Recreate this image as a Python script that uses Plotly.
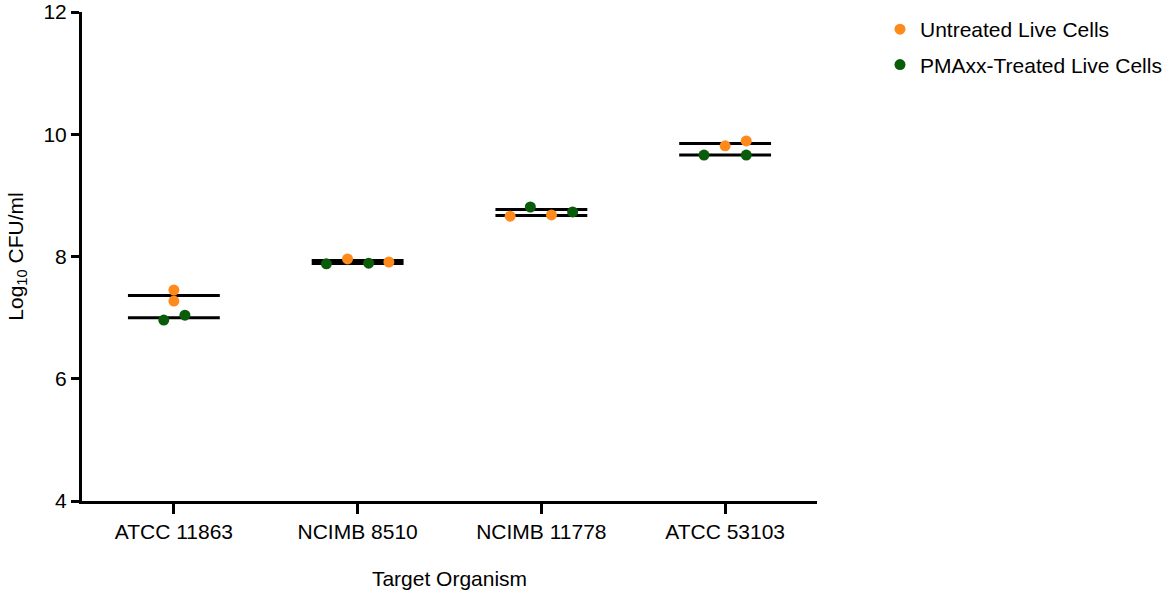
#!/usr/bin/env python3
"""
Log10 CFU/ml per target organism: untreated vs PMAxx-treated live cells
Dot plot with mean lines, rebuilt in Plotly
"""

import numpy as np
import plotly.graph_objects as go

# Categories on the x axis
categories = ["ATCC 11863", "NCIMB 8510", "NCIMB 11778", "ATCC 53103"]

# Untreated live cells (group index, horizontal jitter, log10 CFU/ml)
untreated_group = [0, 0, 1, 1, 2, 2, 3, 3]
untreated_jitter = [0.0, 0.0, -0.055, 0.17, -0.17, 0.055, 0.0, 0.115]
untreated_log = [7.45, 7.27, 7.96, 7.91, 8.66, 8.68, 9.81, 9.89]

# PMAxx-treated live cells
treated_group = [0, 0, 1, 1, 2, 2, 3, 3]
treated_jitter = [-0.055, 0.06, -0.17, 0.06, -0.06, 0.17, -0.115, 0.115]
treated_log = [6.96, 7.04, 7.88, 7.89, 8.81, 8.73, 9.66, 9.66]

y_ticks = [4, 6, 8, 10, 12]

ORANGE = "#FF8A1C"
GREEN = "#0A5C0A"
FONT = "Arial, Liberation Sans, sans-serif"
HALF_WIDTH = 0.25


def mean_segments(groups, values):
    """Build x/y arrays (with gaps) for horizontal mean lines per group"""
    groups = np.array(groups)
    values = np.array(values)
    xs, ys = [], []
    for g in sorted(set(groups.tolist())):
        m = values[groups == g].mean()
        xs += [g - HALF_WIDTH, g + HALF_WIDTH, None]
        ys += [m, m, None]
    return xs, ys


fig = go.Figure()

# Mean lines first so the dots sit on top
for groups, values in [(untreated_group, untreated_log), (treated_group, treated_log)]:
    mx, my = mean_segments(groups, values)
    fig.add_trace(go.Scatter(
        x=mx, y=my, mode="lines",
        line=dict(color="black", width=3),
        showlegend=False, hoverinfo="skip"
    ))

fig.add_trace(go.Scatter(
    x=[g + j for g, j in zip(untreated_group, untreated_jitter)],
    y=untreated_log,
    mode="markers",
    name="Untreated Live Cells",
    legendgroup="untreated",
    marker=dict(color=ORANGE, size=11)
))

fig.add_trace(go.Scatter(
    x=[g + j for g, j in zip(treated_group, treated_jitter)],
    y=treated_log,
    mode="markers",
    name="PMAxx-Treated Live Cells",
    legendgroup="treated",
    marker=dict(color=GREEN, size=11)
))

# autoexpand off: the wide legend must not squeeze the plot area
fig.update_layout(
    width=1170, height=598,
    margin=dict(l=82, r=353, t=12, b=97, autoexpand=False),
    paper_bgcolor="white",
    plot_bgcolor="white",
    font=dict(family=FONT, size=21, color="black"),
    legend=dict(
        x=1.0857, y=1.006, xanchor="left", yanchor="top",
        font=dict(size=21),
        tracegroupgap=5,
        traceorder="grouped"
    ),
)

fig.update_xaxes(
    range=[-0.5, 3.5],
    tickvals=list(range(len(categories))),
    ticktext=categories,
    showline=True, linecolor="black", linewidth=3,
    ticks="outside", ticklen=10, tickwidth=3, tickcolor="black",
    showgrid=False, zeroline=False, automargin=False,
    title=dict(text="Target Organism", standoff=30, font=dict(size=21))
)

fig.update_yaxes(
    range=[4, 12],
    tickvals=y_ticks,
    showline=True, linecolor="black", linewidth=3,
    ticks="outside", ticklen=8, tickwidth=3, tickcolor="black",
    showgrid=False, zeroline=False, automargin=False,
    title=dict(text="Log<sub>10</sub> CFU/ml", standoff=15, font=dict(size=21))
)

# drop the browser's default body margin so the figure sits at the page corner
fig.write_html(
    "out.html",
    config={"displayModeBar": False},
    post_script="document.body.style.margin = '0'; document.body.style.overflow = 'hidden';"
)
